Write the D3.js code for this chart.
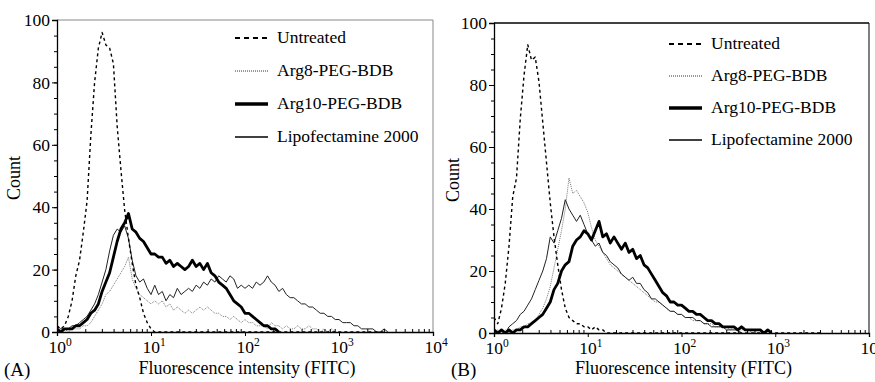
<!DOCTYPE html>
<html>
<head>
<meta charset="utf-8">
<script src="https://cdn.jsdelivr.net/npm/d3@7"></script>
<style>
html,body{margin:0;padding:0;background:#fff;}
svg{display:block;}
svg text{font-family:"Liberation Serif","Times New Roman",Times,"DejaVu Serif",serif;}
</style>
</head>
<body>
<div id="chart"></div>
<script>
// histogram channels, each one binWidth wide in log10 units
const binWidth = 0.04;
const seriesNames = ["Untreated", "Arg8-PEG-BDB", "Arg10-PEG-BDB", "Lipofectamine 2000"];
const yTicks = [0, 20, 40, 60, 80, 100];
const xDecades = [0, 1, 2, 3, 4];
const panelLabels = ["(A)", "(B)"];

// panel A counts
const aUntreated = [2,1,2,5,10,18,23,32,42,63, 80,91,96,92,91,86,66,52,39,30,
  22,15,11,6,3,1,0,0,0,0, 0,0,0,0,0,0,0,0,0,0, 0,0,0,0,0,0,0,0,0,0,
  0,0,0,0,0,0,0,0,0,0, 0,0,0,0,0,0,0,0,0,0, 0,0,0,0,0,0,0,0,0,0, 0,0,0,0,0,0,0,0];
const aArg8 = [1,0,1,0,1,1,1,2,2,3, 5,7,9,12,13,15,17,19,21,24,
  17,14,12,11,10,9,10,9,10,8, 9,7,8,7,6,7,6,7,8,7, 8,7,6,6,5,5,4,5,4,3,
  4,3,3,2,2,2,1,3,2,2, 1,2,1,1,2,1,1,2,1,1, 0,1,0,1,0];
const aArg10 = [1,0,1,1,1,2,2,3,4,6, 7,9,13,16,19,24,29,33,35,38,
  33,32,30,29,27,25,25,24,24,22, 23,21,22,21,20,21,23,21,22,20,
  22,19,18,16,15,14,12,10,9,8, 6,6,5,4,3,2,2,1,1,0];
const aLipo = [2,1,1,1,2,2,3,4,5,7, 9,12,16,20,26,31,33,32,34,30,
  23,18,16,17,14,12,15,12,13,10, 12,11,14,12,13,14,13,15,14,16,
  15,17,16,18,17,16,18,17,14,15, 14,15,14,16,15,16,18,16,15,13,
  14,12,11,11,10,9,9,8,8,7, 6,6,5,5,4,4,3,3,3,2, 2,1,1,1,1,0,0,1,0];

// panel B counts
const bUntreated = [5,3,8,16,28,44,50,69,83,93, 88,89,81,68,55,42,31,22,14,8,
  5,4,3,3,2,2,1,2,1,1, 0,0,0,0,0,0,0,0,0,0, 0,0,0,0,0,0,0,0,0,0,
  0,0,0,0,0,0,0,0,0,0, 0,0,0,0,0,0,0,0,0,0, 0,0,0,0,0,0,0,0,0,0, 0,0,0,0,0,0,0,0];
const bArg8 = [0,1,0,1,0,1,1,2,2,3, 3,4,6,8,11,15,21,27,33,40,
  50,45,46,44,42,39,34,30,28,26, 24,22,21,20,19,18,17,16,15,14,
  13,12,11,10,10,9,8,7,7,6, 6,5,5,4,4,4,3,3,3,2, 2,2,2,1,2,1,1,1,0,1,0];
const bArg10 = [1,0,1,0,1,0,1,1,2,2, 3,4,5,6,8,10,14,16,20,22,
  23,28,30,31,33,32,30,33,36,31, 32,29,31,29,27,29,26,27,24,25,
  22,21,19,17,15,13,12,10,10,9, 9,8,7,7,6,6,5,4,4,3,
  3,2,2,2,2,1,2,1,1,1, 1,1,0,1,0];
const bLipo = [1,0,1,0,2,3,4,6,7,9, 11,14,17,20,24,31,29,33,37,43,
  40,38,36,38,35,32,30,28,29,26, 25,23,22,21,19,18,17,18,16,16,
  14,13,11,11,10,9,8,7,7,6, 6,5,5,5,4,4,3,3,2,2, 2,2,1,1,1,1,0];

const panelData = [
  [aUntreated, aArg8, aArg10, aLipo],
  [bUntreated, bArg8, bArg10, bLipo]
];

const styles = {
  "Untreated":          {stroke: "#000", width: 1.4, dash: "3,3", legendWidth: 2, legendDash: "5,4"},
  "Arg8-PEG-BDB":       {stroke: "#777", width: 1, dash: "1,1", legendWidth: 1, legendDash: "1,1"},
  "Arg10-PEG-BDB":      {stroke: "#000", width: 2.8, dash: null, legendWidth: 3.5, legendDash: null},
  "Lipofectamine 2000": {stroke: "#222", width: 1, dash: null, legendWidth: 1.4, legendDash: null}
};
const drawOrder = [1, 3, 2, 0];

const panels = [
  {left: 57, right: 433, top: 20, bottom: 332, boxColor: "#888", boxTop: 1, legendX: 235, legendY: [38, 71, 104, 137], labelX: 4, countX: 20},
  {left: 494, right: 869, top: 23, bottom: 333, boxColor: "#000", boxTop: 1.6, legendX: 669, legendY: [44, 76, 108, 140], labelX: 451, countX: 459}
];

const serif = "'Liberation Serif','Times New Roman',Times,'DejaVu Serif',serif";

const svg = d3.select("#chart").append("svg")
  .attr("width", 875)
  .attr("height", 382);

panels.forEach((p, pi) => {
  const x = d3.scaleLog().domain([1, 1e4]).range([p.left, p.right]);
  const y = d3.scaleLinear().domain([0, 100]).range([p.bottom, p.top]);
  const g = svg.append("g").attr("font-family", serif);

  const clipId = "clip" + pi;
  g.append("clipPath").attr("id", clipId)
    .append("rect")
    .attr("x", p.left).attr("y", p.top - 2)
    .attr("width", p.right - p.left).attr("height", p.bottom - p.top + 2);

  // frame top + right
  g.append("line").attr("x1", p.left).attr("x2", p.right).attr("y1", p.top).attr("y2", p.top)
    .attr("stroke", p.boxColor).attr("stroke-width", p.boxTop);
  g.append("line").attr("x1", p.right).attr("x2", p.right).attr("y1", p.top).attr("y2", p.bottom)
    .attr("stroke", p.boxColor).attr("stroke-width", 1);

  // curves
  const line = d3.line()
    .x((d, i) => x(Math.pow(10, i * binWidth)))
    .y(d => y(d));
  const curves = g.append("g").attr("clip-path", `url(#${clipId})`);
  drawOrder.forEach(si => {
    const st = styles[seriesNames[si]];
    curves.append("path")
      .datum(panelData[pi][si])
      .attr("d", line)
      .attr("fill", "none")
      .attr("stroke", st.stroke)
      .attr("stroke-width", st.width)
      .attr("stroke-dasharray", st.dash)
      .attr("stroke-linejoin", "round");
  });

  // y axis
  const yMinor = d3.range(0, 101, 5);
  g.append("g").attr("transform", `translate(${p.left},0)`)
    .call(d3.axisLeft(y).tickValues(yMinor).tickSize(3).tickFormat(""))
    .call(a => a.select(".domain").remove());
  g.append("g").attr("transform", `translate(${p.left},0)`)
    .call(d3.axisLeft(y).tickValues(yTicks).tickSize(5).tickPadding(2))
    .call(a => a.select(".domain").attr("stroke-width", 1.3))
    .call(a => a.attr("font-family", serif).attr("font-size", 17.5))
    .call(a => a.selectAll("text").attr("fill", "#000"));

  // x axis
  const xMinor = [];
  [1, 10, 100, 1000].forEach(dec => [2,3,4,5,6,7,8,9].forEach(m => xMinor.push(dec * m)));
  g.append("g").attr("transform", `translate(0,${p.bottom})`)
    .call(d3.axisBottom(x).tickValues(xMinor).tickSize(-3).tickFormat(""))
    .call(a => a.select(".domain").remove());
  g.append("g").attr("transform", `translate(0,${p.bottom})`)
    .call(d3.axisBottom(x).tickValues(xDecades.map(d => Math.pow(10, d))).tickSize(4).tickFormat(""))
    .call(a => a.select(".domain").attr("stroke-width", 1.3));

  xDecades.forEach(d => {
    const t = g.append("text")
      .attr("x", x(Math.pow(10, d)) + 3)
      .attr("y", p.bottom + 21)
      .attr("text-anchor", "middle")
      .attr("font-size", 17.5);
    t.append("tspan").text("10");
    t.append("tspan").attr("dy", -7).attr("font-size", 11.5).text(d);
  });

  g.append("text")
    .attr("x", (p.left + p.right) / 2 + 2)
    .attr("y", 374)
    .attr("text-anchor", "middle")
    .attr("font-size", 18)
    .text("Fluorescence intensity (FITC)");

  g.append("text")
    .attr("transform", `translate(${p.countX},${(p.top + p.bottom) / 2 + 2}) rotate(-90)`)
    .attr("text-anchor", "middle")
    .attr("font-size", 18)
    .text("Count");

  g.append("text")
    .attr("x", p.labelX)
    .attr("y", 376)
    .attr("font-size", 19)
    .text(panelLabels[pi]);

  // legend
  seriesNames.forEach((name, i) => {
    const st = styles[name];
    const ly = p.legendY[i];
    g.append("line")
      .attr("x1", p.legendX).attr("x2", p.legendX + 33)
      .attr("y1", ly).attr("y2", ly)
      .attr("stroke", st.stroke === "#777" ? "#333" : "#000")
      .attr("stroke-width", st.legendWidth)
      .attr("stroke-dasharray", st.legendDash);
    g.append("text")
      .attr("x", p.legendX + 42)
      .attr("y", ly + 5)
      .attr("font-size", 17.5)
      .text(name);
  });
});
</script>
</body>
</html>
